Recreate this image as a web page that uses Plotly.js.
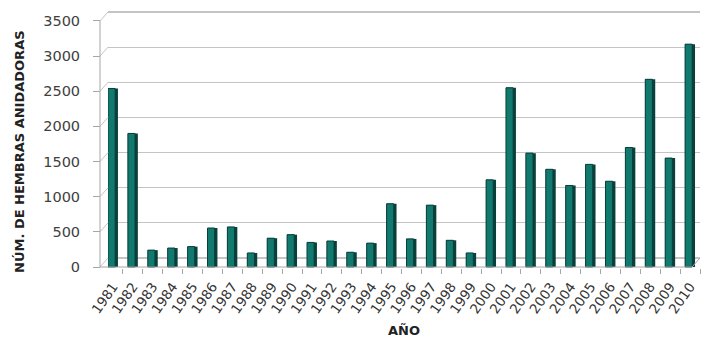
<!DOCTYPE html>
<html>
<head>
<meta charset="utf-8">
<script src="https://cdn.plot.ly/plotly-3.0.1.min.js"></script>
<style>html,body{margin:0;padding:0;background:#fff;}#chart{width:702px;height:339px;}</style>
</head>
<body>
<div id="chart"></div>
<script>
// ---- data ----
const years = ["1981","1982","1983","1984","1985","1986","1987","1988","1989","1990",
               "1991","1992","1993","1994","1995","1996","1997","1998","1999","2000",
               "2001","2002","2003","2004","2005","2006","2007","2008","2009","2010"];
const females = [2540,1900,240,270,290,555,570,200,410,460,
                 350,370,210,340,900,400,880,380,200,1240,
                 2550,1620,1390,1160,1460,1220,1700,2670,1550,3170];
const yTickVals = [0,500,1000,1500,2000,2500,3000,3500];
const yTitle = "NÚM. DE HEMBRAS ANIDADORAS";
const xTitle = "AÑO";

// ---- style ----
const GRID_SHIFT = 128;          // back-wall offset (pseudo 3D), in value units
const WALL_DX = 8 / 600;         // back-wall x offset in paper units
const tealFace = "#12796f";
const tealSide = "#0a3f3b";
const gridCol = "#c4c4c4";
const axisCol = "#a6a6a6";

const traces = [
  {type:"scatter", x:[years[0]], y:[0], yaxis:"y2", mode:"markers",
   marker:{opacity:0}, hoverinfo:"skip", showlegend:false},
  {type:"bar", x: years, y: females, width: 0.5, offset: -0.25,
   marker:{color: tealSide, line:{width:0}}, hoverinfo:"x+y", showlegend:false},
  {type:"bar", x: years, y: females, width: 0.36, offset: -0.25,
   marker:{color: tealFace, line:{width:1, color: tealSide}}, hoverinfo:"skip", showlegend:false}
];

const yMin = yTickVals[0], yMax = yTickVals[yTickVals.length - 1];
const shapes = yTickVals.map(v => ({
  type:"line", xref:"paper", yref:"y", x0:0, x1:WALL_DX, y0:v, y1:v + GRID_SHIFT,
  line:{color: gridCol, width:1}
}));
// front wall edge (y axis line)
shapes.push({type:"line", xref:"paper", yref:"y", x0:0, x1:0, y0:yMin, y1:yMax,
  line:{color: axisCol, width:1}});
// floor front edge and right diagonal
shapes.push({type:"line", xref:"paper", yref:"y", x0:0, x1:1 - WALL_DX, y0:yMin, y1:yMin,
  line:{color: axisCol, width:1}});
shapes.push({type:"line", xref:"paper", yref:"y", x0:1 - WALL_DX, x1:1, y0:yMin, y1:yMin + GRID_SHIFT,
  line:{color: axisCol, width:1}});

const yRange = [-14, 3713];
const layout = {
  width:702, height:339,
  margin:{l:100, r:2, t:6, b:71},
  paper_bgcolor:"#fff", plot_bgcolor:"rgba(0,0,0,0)",
  barmode:"overlay",
  font:{family:"DejaVu Sans, sans-serif", color:"#404040"},
  xaxis:{
    type:"category", domain:[WALL_DX, 1], range:[-0.25, 29.5],
    showgrid:false, showline:false,
    ticks:"outside", tickson:"boundaries", ticklen:5, tickcolor:axisCol,
    ticklabelstandoff:7,
    tickangle:-55, tickfont:{size:13.5, color:"#333"},
    title:{text:xTitle, font:{size:13, color:"#222", weight:"bold"}, standoff:10},
    fixedrange:true
  },
  yaxis:{
    anchor:"free", position:0, range:yRange,
    tickvals:yTickVals, ticks:"outside", ticklen:7, tickcolor:axisCol,
    showline:false, showgrid:false, zeroline:false,
    ticklabelstandoff:10,
    tickfont:{size:14.5, color:"#404040"},
    fixedrange:true
  },
  yaxis2:{
    overlaying:"y", anchor:"x", range:[yRange[0]-GRID_SHIFT, yRange[1]-GRID_SHIFT],
    tickvals:yTickVals, showticklabels:false, ticks:"", showgrid:true,
    gridcolor:gridCol, gridwidth:1.2, zeroline:false, showline:false, fixedrange:true
  },
  annotations:[{
    text:yTitle, textangle:-90, xref:"paper", yref:"paper",
    x:-0.1333, y:0.443, xanchor:"center", yanchor:"middle", showarrow:false,
    font:{size:13, color:"#222", weight:"bold"}
  }],
  shapes: shapes
};

Plotly.newPlot("chart", traces, layout, {displayModeBar:false, staticPlot:true});
</script>
</body>
</html>
